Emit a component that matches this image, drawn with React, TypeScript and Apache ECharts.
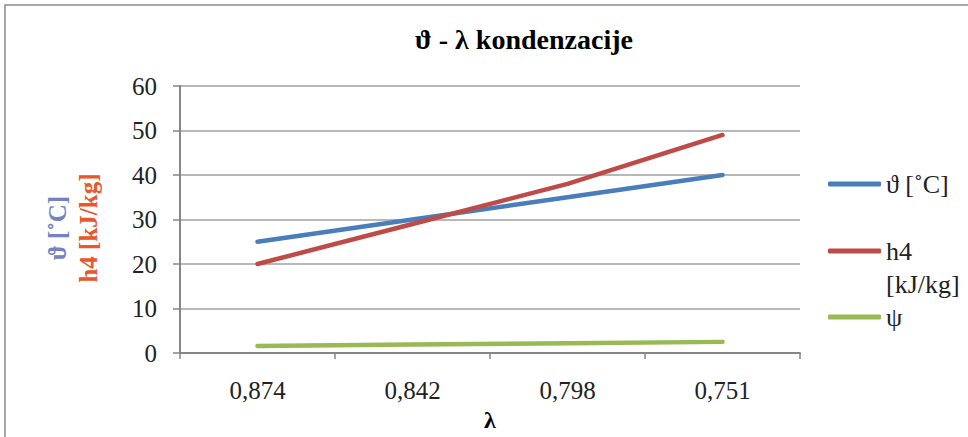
import React, { useEffect, useRef } from "react";
import * as echarts from "echarts";

const categories = ["0,874", "0,842", "0,798", "0,751"];
const thetaValues = [25, 30, 35, 40];
const h4Values = [20, 29, 38, 49];
const psiValues = [1.6, 1.9, 2.2, 2.5];
const seriesNames = ["ϑ [˚C]", "h4\n[kJ/kg]", "ψ"];
const seriesColors = ["#4A7EBB", "#BE4B48", "#98B954"];

const SERIF = "Liberation Serif";

export default function App() {
  const ref = useRef<HTMLDivElement>(null);
  useEffect(() => {
    if (!ref.current) return;
    const chart = echarts.init(ref.current, undefined, { renderer: "svg" });
    const LH = 33;
    const legendBase = {
      orient: "vertical" as const,
      left: 828,
      padding: 0,
      icon: "roundRect",
      itemWidth: 53,
      itemHeight: 5,
      textStyle: { fontFamily: SERIF, fontSize: 26, color: "#222", lineHeight: LH },
    };
    chart.setOption({
      animation: false,
      backgroundColor: "#fff",
      textStyle: { fontFamily: SERIF },
      title: {
        text: "ϑ - λ kondenzacije",
        left: 524,
        top: 25,
        padding: 0,
        textAlign: "center",
        textStyle: { fontFamily: SERIF, fontSize: 28, fontWeight: "bold", color: "#000" },
      },
      grid: { left: 180, right: 168, top: 86, bottom: 81, containLabel: false },
      legend: [
        { ...legendBase, top: 184 - LH / 2, data: [seriesNames[0]] },
        {
          ...legendBase,
          top: 251 - (LH * 3) / 2,
          data: [seriesNames[1]],
          formatter: (name: string) => " \n" + name,
        },
        { ...legendBase, top: 317 - LH / 2, data: [seriesNames[2]] },
      ],
      xAxis: {
        type: "category",
        data: categories,
        boundaryGap: true,
        name: "λ",
        nameLocation: "middle",
        nameGap: 55,
        nameTextStyle: { fontFamily: SERIF, fontSize: 24, fontWeight: "bold", color: "#000", verticalAlign: "top" },
        axisLine: { show: true, lineStyle: { color: "#868686", width: 2 } },
        axisTick: { show: true, length: 6, alignWithLabel: false, lineStyle: { color: "#868686", width: 1.5 } },
        axisLabel: { fontFamily: SERIF, fontSize: 25, color: "#222", margin: 25 },
        splitLine: { show: false },
      },
      yAxis: {
        type: "value",
        min: 0,
        max: 60,
        interval: 10,
        axisLine: { show: true, lineStyle: { color: "#868686", width: 2 } },
        axisTick: { show: true, length: 7, lineStyle: { color: "#868686", width: 1.5 } },
        axisLabel: { fontFamily: SERIF, fontSize: 25, color: "#222", margin: 23 },
        splitLine: { show: true, lineStyle: { color: "#A0A0A0", width: 1.5 } },
      },
      graphic: [
        {
          type: "rect",
          shape: { x: 5, y: 5, width: 1000, height: 500 },
          style: { fill: "none", stroke: "#8C8C8C", lineWidth: 1.5 },
          silent: true,
          z: -1,
        },
        {
          type: "text",
          x: 57,
          y: 228,
          rotation: Math.PI / 2,
          style: {
            text: "ϑ [˚C]",
            fontFamily: SERIF,
            fontSize: 25,
            fontWeight: "bold",
            fill: "#7282C2",
            align: "center",
            verticalAlign: "middle",
          },
        },
        {
          type: "text",
          x: 88,
          y: 228,
          rotation: Math.PI / 2,
          style: {
            text: "h4 [kJ/kg]",
            fontFamily: SERIF,
            fontSize: 25,
            fontWeight: "bold",
            fill: "#E8582A",
            align: "center",
            verticalAlign: "middle",
          },
        },
      ],
      series: [thetaValues, h4Values, psiValues].map((vals, i) => ({
        type: "line",
        name: seriesNames[i],
        data: vals,
        symbol: "none",
        smooth: false,
        lineStyle: { color: seriesColors[i], width: 4.5, cap: "round" },
        itemStyle: { color: seriesColors[i] },
      })),
    });
    return () => chart.dispose();
  }, []);
  return (
    <div
      ref={ref}
      style={{ position: "fixed", left: 0, top: 0, width: 968, height: 437, background: "#fff" }}
    />
  );
}
